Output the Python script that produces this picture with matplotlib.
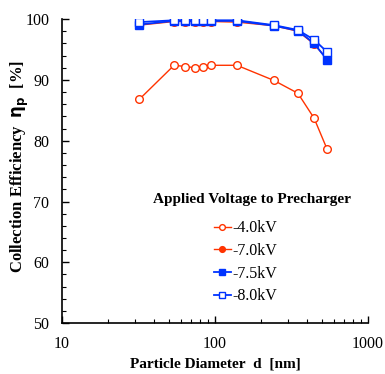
import matplotlib
matplotlib.use('Agg')
import matplotlib.pyplot as plt
from matplotlib.ticker import MultipleLocator, FixedLocator, NullFormatter

plt.rcParams['font.family'] = ['Liberation Serif', 'DejaVu Serif']

# particle diameter [nm]
diam = [32, 54, 64, 74, 83, 94, 139, 243, 348, 444, 540]
# collection efficiency [%] for each precharger voltage
eff_40 = [86.8, 92.4, 92.2, 92.0, 92.1, 92.4, 92.4, 89.9, 87.8, 83.7, 78.6]
eff_70 = [99.0, 99.6, 99.6, 99.6, 99.6, 99.6, 99.5, 98.9, 98.0, 95.9, 93.4]
eff_75 = [99.1, 99.7, 99.7, 99.7, 99.7, 99.7, 99.7, 98.9, 98.1, 96.0, 93.3]
eff_80 = [99.5, 99.8, 99.8, 99.8, 99.8, 99.8, 99.8, 99.0, 98.2, 96.6, 94.6]
labels = ['-4.0kV', '-7.0kV', '-7.5kV', '-8.0kV']

red = '#ff3300'
blue = '#0033ff'

fig = plt.figure(figsize=(3.85, 3.74), dpi=100)
ax = fig.add_axes([0.161, 0.136, 0.795, 0.813])

ax.plot(diam, eff_40, '-o', color=red, mfc='white', mec=red, ms=5.5, lw=1, label=labels[0])
ax.plot(diam, eff_70, '-o', color=red, mfc=red, mec=red, ms=5.5, lw=1, label=labels[1])
ax.plot(diam, eff_75, '-s', color=blue, mfc=blue, mec=blue, ms=5.5, lw=1.3, label=labels[2])
ax.plot(diam, eff_80, '-s', color=blue, mfc='white', mec=blue, ms=5.5, lw=1.3, label=labels[3])

ax.set_xscale('log')
ax.set_xlim(10, 1000)
ax.set_ylim(50, 100)
ax.yaxis.set_major_locator(MultipleLocator(10))
ax.yaxis.set_minor_locator(MultipleLocator(2))
ax.xaxis.set_major_locator(FixedLocator([10, 100, 1000]))
ax.xaxis.set_major_formatter(plt.FuncFormatter(lambda v, p: '%d' % v))
ax.xaxis.set_minor_formatter(NullFormatter())

ax.spines['top'].set_visible(False)
ax.spines['right'].set_visible(False)
ax.spines['left'].set_linewidth(1.2)
ax.spines['bottom'].set_linewidth(1.2)
ax.tick_params(which='both', direction='in', labelsize=11.5)
ax.tick_params(which='major', length=5, width=1)
ax.tick_params(which='minor', length=3, width=0.8)
ax.tick_params(axis='x', pad=9)
ax.tick_params(axis='y', pad=9)

ax.set_xlabel('Particle Diameter  d  [nm]', fontsize=11, fontweight='bold')
ax.set_ylabel(r'Collection Efficiency  $\mathbf{\eta_p}$  [%]', fontsize=12,
              fontweight='bold')
ax.yaxis.set_label_coords(-0.1, 0.516)

ax.text(0.62, 0.408, 'Applied Voltage to Precharger', transform=ax.transAxes,
        ha='center', va='center', fontsize=11, fontweight='bold')
ax.legend(loc='upper left', bbox_to_anchor=(0.47, 0.365), frameon=False,
          fontsize=11.5, handlelength=1.05, handletextpad=0.1, labelspacing=0.42,
          borderpad=0, markerscale=0.75)

fig.savefig('out.png', dpi=100)
